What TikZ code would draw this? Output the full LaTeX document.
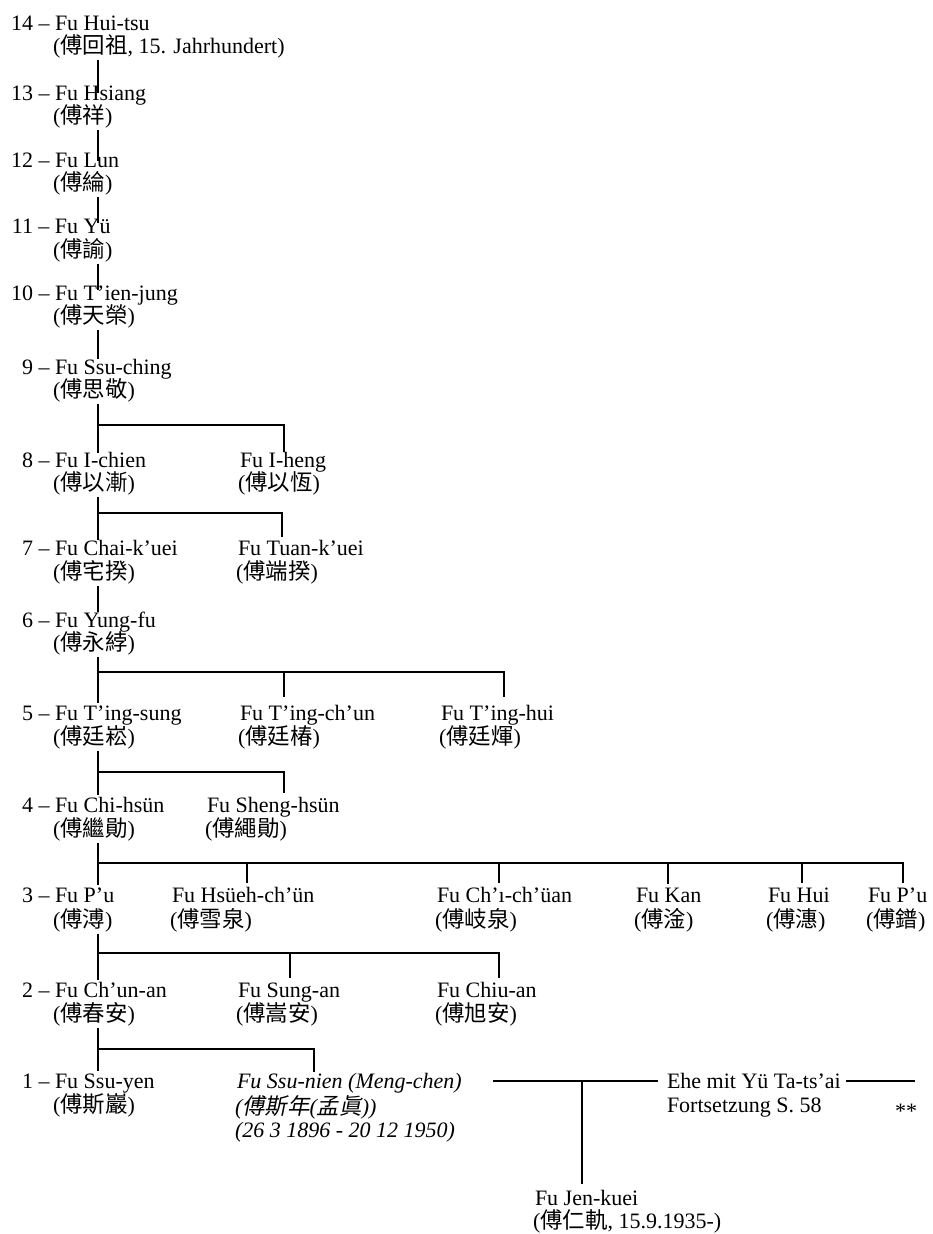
\documentclass[tikz,border=0pt]{standalone}
\usepackage{fontspec}
\setmainfont{Liberation Serif}
\newfontfamily\cjkf{Noto Sans CJK TC}[Scale=1.02]
\newfontfamily\cjkfi{Noto Sans CJK TC}[Scale=1.02,FakeSlant=0.2]
\newcommand{\zhc}[1]{{\cjkf #1}}
\newcommand{\zhi}[1]{{\cjkfi #1}}
\tikzset{
  nm/.style={anchor=base west, inner sep=0pt, outer sep=0pt, font=\fontsize{22}{26}\selectfont},
  itn/.style={nm, font=\fontsize{22}{26}\selectfont\itshape},
  ln/.style={line width=1.1pt, line cap=butt, draw=black},
}
\begin{document}
\begin{tikzpicture}[x=1pt, y=-1pt]
\useasboundingbox[fill=white] (0,0) rectangle (932,1234);

% ---- main line ----
\node[nm] (p14) at (55,30)  {\llap{14 – }Fu Hui-tsu};
\node[nm] (c14) at (53,53)  {(\zhc{傅回祖}, 15. Jahrhundert)};
\node[nm] (p13) at (55,100) {\llap{13 – }Fu Hsiang};
\node[nm] (c13) at (53,123) {(\zhc{傅祥})};
\node[nm] (p12) at (55,167) {\llap{12 – }Fu Lun};
\node[nm] (c12) at (53,190) {(\zhc{傅綸})};
\node[nm] (p11) at (55,233) {\llap{11 – }Fu Yü};
\node[nm] (c11) at (53,257) {(\zhc{傅諭})};
\node[nm] (p10) at (55,300) {\llap{10 – }Fu T’ien-jung};
\node[nm] (c10) at (53,323) {(\zhc{傅天榮})};
\node[nm] (p9)  at (55,374) {\llap{9 – }Fu Ssu-ching};
\node[nm] (c9)  at (53,397) {(\zhc{傅思敬})};
\node[nm] (p8)  at (55,467) {\llap{8 – }Fu I-chien};
\node[nm] (c8)  at (53,490) {(\zhc{傅以漸})};
\node[nm] (p7)  at (55,555) {\llap{7 – }Fu Chai-k’uei};
\node[nm] (c7)  at (53,579) {(\zhc{傅宅揆})};
\node[nm] (p6)  at (55,627) {\llap{6 – }Fu Yung-fu};
\node[nm] (c6)  at (53,650) {(\zhc{傅永綍})};
\node[nm] (p5)  at (55,720) {\llap{5 – }Fu T’ing-sung};
\node[nm] (c5)  at (53,744) {(\zhc{傅廷崧})};
\node[nm] (p4)  at (55,812) {\llap{4 – }Fu Chi-hsün};
\node[nm] (c4)  at (53,836) {(\zhc{傅繼勛})};
\node[nm] (p3)  at (55,902) {\llap{3 – }Fu P’u};
\node[nm] (c3)  at (53,927) {(\zhc{傅溥})};
\node[nm] (p2)  at (55,997) {\llap{2 – }Fu Ch’un-an};
\node[nm] (c2)  at (53,1021) {(\zhc{傅春安})};
\node[nm] (p1)  at (55,1088) {\llap{1 – }Fu Ssu-yen};
\node[nm] (c1)  at (53,1112) {(\zhc{傅斯巖})};

% ---- siblings ----
\node[nm] (s8)   at (240,467) {Fu I-heng};
\node[nm] (sc8)  at (238,490) {(\zhc{傅以恆})};
\node[nm] (s7)   at (238,555) {Fu Tuan-k’uei};
\node[nm] (sc7)  at (236,579) {(\zhc{傅端揆})};
\node[nm] (s5a)  at (240,720) {Fu T’ing-ch’un};
\node[nm] (sc5a) at (238,744) {(\zhc{傅廷椿})};
\node[nm] (s5b)  at (441,720) {Fu T’ing-hui};
\node[nm] (sc5b) at (439,744) {(\zhc{傅廷煇})};
\node[nm] (s4)   at (207,812) {Fu Sheng-hsün};
\node[nm] (sc4)  at (205,836) {(\zhc{傅繩勛})};
\node[nm] (s3a)  at (172,902) {Fu Hsüeh-ch’ün};
\node[nm] (sc3a) at (170,927) {(\zhc{傅雪泉})};
\node[nm] (s3b)  at (437,902) {Fu Ch’ı-ch’üan};
\node[nm] (sc3b) at (435,927) {(\zhc{傅岐泉})};
\node[nm] (s3c)  at (636,902) {Fu Kan};
\node[nm] (sc3c) at (634,927) {(\zhc{傅淦})};
\node[nm] (s3d)  at (768,902) {Fu Hui};
\node[nm] (sc3d) at (766,927) {(\zhc{傅潓})};
\node[nm] (s3e)  at (868,902) {Fu P’u};
\node[nm] (sc3e) at (866,927) {(\zhc{傅鐠})};
\node[nm] (s2a)  at (238,997) {Fu Sung-an};
\node[nm] (sc2a) at (236,1021) {(\zhc{傅嵩安})};
\node[nm] (s2b)  at (437,997) {Fu Chiu-an};
\node[nm] (sc2b) at (435,1021) {(\zhc{傅旭安})};
\node[itn] (s1)  at (237,1088) {Fu Ssu-nien (Meng-chen)};
\node[itn] (sc1) at (235,1114) {(\zhi{傅斯年}(\zhi{孟眞}))};
\node[itn] (sd1) at (235,1137) {(26 3 1896 - 20 12 1950)};

\node[nm] (ehe)  at (667,1088) {Ehe mit Yü Ta-ts’ai};
\node[nm] (fort) at (667,1112) {Fortsetzung S. 58};
\node[nm, anchor=base east] (st) at (917,1118) {**};
\node[nm] (jk)   at (535,1205) {Fu Jen-kuei};
\node[nm] (jkc)  at (533,1228) {(\zhc{傅仁軌}, 15.9.1935-)};

% ---- coordinates ----
\coordinate (tx) at (98,0);
\coordinate (j9) at (98,425);   \coordinate (k9) at (284,0);
\coordinate (j8) at (98,513);   \coordinate (k8) at (282,0);
\coordinate (j6) at (98,672);   \coordinate (k6a) at (284,0); \coordinate (k6b) at (504,0);
\coordinate (j5) at (98,772);   \coordinate (k5) at (284,0);
\coordinate (j4) at (98,863);
\coordinate (k4a) at (247,0); \coordinate (k4b) at (499,0); \coordinate (k4c) at (668,0);
\coordinate (k4d) at (802,0); \coordinate (k4e) at (903,0);
\coordinate (j3) at (98,953);   \coordinate (k3a) at (290,0); \coordinate (k3b) at (499,0);
\coordinate (j2) at (98,1049);  \coordinate (k2) at (314,0);
\coordinate (m1) at (493,1081); \coordinate (mj) at (582,1081);
\coordinate (eend) at (915,1081);

% ---- trunk ----
\draw[ln] ([yshift=-2pt]c14.south -| tx) -- ([yshift=-8pt]p13.north -| tx);
\draw[ln] ([yshift=-2pt]c13.south -| tx) -- ([yshift=-9pt]p12.north -| tx);
\draw[ln] ([yshift=-2pt]c12.south -| tx) -- ([yshift=-5pt]p11.north -| tx);
\draw[ln] ([yshift=-2pt]c11.south -| tx) -- ([yshift=-5pt]p10.north -| tx);
\draw[ln] ([yshift=-2pt]c10.south -| tx) -- (p9.north -| tx);
\draw[ln] ([yshift=-2pt]c9.south -| tx) -- ([yshift=-1pt]p8.north -| tx);
\draw[ln] ([yshift=-2pt]c8.south -| tx) -- (p7.north -| tx);
\draw[ln] ([yshift=-2pt]c7.south -| tx) -- (p6.north -| tx);
\draw[ln] ([yshift=-2pt]c6.south -| tx) -- ([yshift=2pt]p5.north -| tx);
\draw[ln] ([yshift=-2pt]c5.south -| tx) -- ([yshift=2pt]p4.north -| tx);
\draw[ln] ([yshift=-2pt]c4.south -| tx) -- ([yshift=2pt]p3.north -| tx);
\draw[ln] ([yshift=-2pt]c3.south -| tx) -- ([yshift=2pt]p2.north -| tx);
\draw[ln] ([yshift=-2pt]c2.south -| tx) -- ([yshift=2pt]p1.north -| tx);

% ---- branches ----
\draw[ln] (j9) -| (s8.north -| k9);
\draw[ln] (j8) -| ([yshift=3pt]s7.north -| k8);
\draw[ln] (j6) -| ([yshift=8pt]s5b.north -| k6b);
\draw[ln] (k6a |- j6) -- ([yshift=8pt]s5a.north -| k6a);
\draw[ln] (j5) -| ([yshift=4pt]s4.north -| k5);
\draw[ln] (j4) -| ([yshift=4pt]s3e.north -| k4e);
\draw[ln] (k4a |- j4) -- ([yshift=4pt]s3a.north -| k4a);
\draw[ln] (k4b |- j4) -- ([yshift=4pt]s3b.north -| k4b);
\draw[ln] (k4c |- j4) -- ([yshift=4pt]s3c.north -| k4c);
\draw[ln] (k4d |- j4) -- ([yshift=4pt]s3d.north -| k4d);
\draw[ln] (j3) -| ([yshift=4pt]s2b.north -| k3b);
\draw[ln] (k3a |- j3) -- ([yshift=4pt]s2a.north -| k3a);
\draw[ln] (j2) -| ([yshift=1pt]s1.north -| k2);

% ---- marriage ----
\draw[ln] (m1) -- ([xshift=-9pt]ehe.west |- m1);
\draw[ln] (mj) -- ([yshift=6pt]jk.north -| mj);
\draw[ln] ([xshift=5pt]ehe.east |- eend) -- (eend);
\end{tikzpicture}
\end{document}
